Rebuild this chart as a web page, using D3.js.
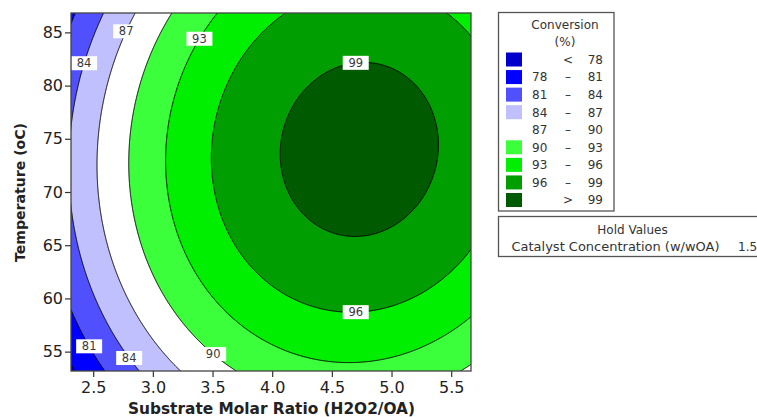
<!DOCTYPE html>
<html>
<head>
<meta charset="utf-8">
<script src="https://cdn.jsdelivr.net/npm/d3@7"></script>
<style>
  html, body { margin: 0; padding: 0; background: #fff; }
  svg { display: block; }
  text { font-family: "DejaVu Sans", sans-serif; }
</style>
</head>
<body>
<script>
// Axis ranges and ticks
const ratioRange = [2.314, 5.666];
const tempRange = [53.18, 86.82];
const ratioTicks = [2.5, 3.0, 3.5, 4.0, 4.5, 5.0, 5.5];
const tempTicks = [55, 60, 65, 70, 75, 80, 85];

// Contour levels and the fill of each band (< first level ... > last level)
const levels = [78, 81, 84, 87, 90, 93, 96, 99];
const bandColors = ["#0000CC", "#0000FF", "#5050FF", "#C0C0FF", "#FFFFFF",
                    "#3CFF3C", "#00EE00", "#009E00", "#005A00"];

// Fitted quadratic response surface, catalyst held at 1.5 w/wOA:
// Conversion = b0 + b1*R + b2*T + b11*R^2 + b22*T^2 + b12*R*T
const surfaceTerms = ["const", "R", "T", "R*R", "T*T", "R*T"];
const surfaceCoefs = [-51.269, 24.1444, 2.55048, -2.74, -0.018, 0.024];

// Where each contour carries its value label (fixed temperature -> left branch,
// fixed ratio -> upper/lower branch)
const labelSpots = [
  { level: 87, temp: 85.1 },
  { level: 84, temp: 82.1 },
  { level: 93, temp: 84.4 },
  { level: 99, ratio: 4.7, branch: "upper" },
  { level: 96, ratio: 4.7, branch: "lower" },
  { level: 90, temp: 54.77 },
  { level: 84, temp: 54.4 },
  { level: 81, temp: 55.5 }
];

const holdName = "Catalyst Concentration (w/wOA)";
const holdValue = "1.5";

const W = 757, H = 417;
const plot = { left: 71, top: 13, right: 471, bottom: 371 };

const svg = d3.select("body").append("svg")
  .attr("width", W).attr("height", H)
  .attr("viewBox", `0 0 ${W} ${H}`);

svg.append("rect").attr("width", W).attr("height", H).attr("fill", "#fff");

const x = d3.scaleLinear().domain(ratioRange).range([plot.left, plot.right]);
const y = d3.scaleLinear().domain(tempRange).range([plot.bottom, plot.top]);

const [b0, b1, b2, b11, b22, b12] = surfaceCoefs;
function conversion(r, t) {
  return b0 + b1 * r + b2 * t + b11 * r * r + b22 * t * t + b12 * r * t;
}

// Sample the surface on a pixel grid slightly larger than the plot, so the
// grid border of every contour polygon falls outside the clip.
const pad = 2;
const nx = (plot.right - plot.left) + 2 * pad;
const ny = (plot.bottom - plot.top) + 2 * pad;
const r0 = x.invert(plot.left - pad), r1 = x.invert(plot.right + pad);
const t0 = y.invert(plot.top - pad), t1 = y.invert(plot.bottom + pad);
const dr = (r1 - r0) / nx, dt = (t1 - t0) / ny;

const grid = new Float64Array(nx * ny);
for (let j = 0; j < ny; j++) {
  const t = t0 + (j + 0.5) * dt;
  for (let i = 0; i < nx; i++) {
    grid[j * nx + i] = conversion(r0 + (i + 0.5) * dr, t);
  }
}

const contours = d3.contours().size([nx, ny]).thresholds(levels)(grid);

const toScreen = d3.geoTransform({
  point(gx, gy) { this.stream.point(x(r0 + gx * dr), y(t0 + gy * dt)); }
});
const path = d3.geoPath(toScreen);

svg.append("clipPath").attr("id", "plot-clip")
  .append("rect")
  .attr("x", plot.left).attr("y", plot.top)
  .attr("width", plot.right - plot.left).attr("height", plot.bottom - plot.top);

const surface = svg.append("g").attr("clip-path", "url(#plot-clip)");

surface.append("rect")
  .attr("x", plot.left).attr("y", plot.top)
  .attr("width", plot.right - plot.left).attr("height", plot.bottom - plot.top)
  .attr("fill", bandColors[0]);

surface.selectAll("path.band")
  .data(contours)
  .join("path")
  .attr("class", "band")
  .attr("d", path)
  .attr("fill", (d, i) => bandColors[i + 1])
  .attr("stroke", "none");

surface.selectAll("path.iso")
  .data(contours)
  .join("path")
  .attr("class", "iso")
  .attr("d", path)
  .attr("fill", "none")
  .attr("stroke", "#000")
  .attr("stroke-width", 1);

// Contour value labels, placed on their contour by solving the surface
function solveQuadratic(a, b, c) {
  const disc = Math.sqrt(b * b - 4 * a * c);
  return [(-b - disc) / (2 * a), (-b + disc) / (2 * a)];
}
function labelPoint(s) {
  if (s.temp !== undefined) {
    const t = s.temp;
    const roots = solveQuadratic(b11, b1 + b12 * t, b0 + b2 * t + b22 * t * t - s.level);
    return [Math.min(...roots), t];
  }
  const r = s.ratio;
  const roots = solveQuadratic(b22, b2 + b12 * r, b0 + b1 * r + b11 * r * r - s.level);
  return [r, s.branch === "upper" ? Math.max(...roots) : Math.min(...roots)];
}

const labels = svg.append("g").selectAll("g")
  .data(labelSpots)
  .join("g")
  .attr("transform", d => {
    const [r, t] = labelPoint(d);
    return `translate(${x(r)},${y(t)})`;
  });
labels.append("rect")
  .attr("x", -13).attr("y", -7).attr("width", 26).attr("height", 14)
  .attr("fill", "#fff");
labels.append("text")
  .attr("text-anchor", "middle")
  .attr("dy", "0.36em")
  .attr("font-size", 11.5)
  .attr("fill", "#3a3a3a")
  .text(d => d.level);

// Axes
const xAxis = svg.append("g")
  .attr("transform", `translate(0,${plot.bottom})`)
  .call(d3.axisBottom(x).tickValues(ratioTicks).tickFormat(d3.format(".1f"))
    .tickSize(6).tickSizeOuter(0).tickPadding(5));
const yAxis = svg.append("g")
  .attr("transform", `translate(${plot.left},0)`)
  .call(d3.axisLeft(y).tickValues(tempTicks).tickFormat(d3.format("d"))
    .tickSize(6).tickSizeOuter(0).tickPadding(2));
[xAxis, yAxis].forEach(g => {
  g.select(".domain").remove();
  g.selectAll(".tick line").attr("stroke", "#333").attr("stroke-width", 1.2);
  g.selectAll(".tick text")
    .attr("font-family", "DejaVu Sans, sans-serif")
    .attr("font-size", 16)
    .attr("fill", "#222");
});

// Plot frame
svg.append("rect")
  .attr("x", plot.left).attr("y", plot.top)
  .attr("width", plot.right - plot.left).attr("height", plot.bottom - plot.top)
  .attr("fill", "none").attr("stroke", "#444").attr("stroke-width", 1.3);

// Axis titles
svg.append("text")
  .attr("x", (plot.left + plot.right) / 2 + 0.5).attr("y", 414)
  .attr("text-anchor", "middle")
  .attr("font-size", 15).attr("font-weight", "bold").attr("fill", "#222")
  .attr("textLength", 287).attr("lengthAdjust", "spacingAndGlyphs")
  .text("Substrate Molar Ratio (H2O2/OA)");
svg.append("text")
  .attr("transform", "translate(24.5,192.5) rotate(-90)")
  .attr("text-anchor", "middle")
  .attr("font-size", 14).attr("font-weight", "bold").attr("fill", "#222")
  .attr("textLength", 139).attr("lengthAdjust", "spacingAndGlyphs")
  .text("Temperature (oC)");

// Legend
const legend = svg.append("g");
legend.append("rect")
  .attr("x", 498.5).attr("y", 12.5).attr("width", 115.5).attr("height", 198.5)
  .attr("fill", "#fff").attr("stroke", "#555").attr("stroke-width", 1.3);
legend.append("text").attr("x", 565).attr("y", 28.5).attr("text-anchor", "middle")
  .attr("font-size", 12).attr("fill", "#333").text("Conversion");
legend.append("text").attr("x", 565).attr("y", 46).attr("text-anchor", "middle")
  .attr("font-size", 12).attr("fill", "#333").text("(%)");

const legendRows = bandColors.map((c, i) => ({
  color: c,
  low: i === 0 ? null : levels[i - 1],
  high: i === levels.length ? null : levels[i]
}));
const rowY = d3.scaleLinear().domain([0, legendRows.length - 1]).range([59.5, 200]);
const rows = legend.selectAll("g.row").data(legendRows).join("g")
  .attr("class", "row")
  .attr("transform", (d, i) => `translate(0,${rowY(i)})`);
rows.append("rect")
  .attr("x", 506).attr("y", -7).attr("width", 16).attr("height", 14)
  .attr("fill", d => d.color);
rows.append("text").attr("x", 532).attr("dy", "0.36em")
  .attr("font-size", 12).attr("fill", "#333")
  .text(d => (d.low !== null && d.high !== null) ? d.low : "");
rows.append("text").attr("x", 568).attr("dy", "0.36em").attr("text-anchor", "middle")
  .attr("font-size", 12).attr("fill", "#333")
  .text(d => d.low === null ? "<" : d.high === null ? ">" : "–");
rows.append("text").attr("x", 603).attr("dy", "0.36em").attr("text-anchor", "end")
  .attr("font-size", 12).attr("fill", "#333")
  .text(d => d.high === null ? d.low : d.high);

// Hold values box
const hold = svg.append("g");
hold.append("rect")
  .attr("x", 498.5).attr("y", 216.5).attr("width", 280).attr("height", 40)
  .attr("fill", "#fff").attr("stroke", "#555").attr("stroke-width", 1.3);
hold.append("text").attr("x", 632.5).attr("y", 234).attr("text-anchor", "middle")
  .attr("font-size", 12).attr("fill", "#333").text("Hold Values");
hold.append("text").attr("x", 511.5).attr("y", 251)
  .attr("font-size", 12).attr("fill", "#333")
  .attr("textLength", 208).attr("lengthAdjust", "spacingAndGlyphs")
  .text(holdName);
hold.append("text").attr("x", 738).attr("y", 251)
  .attr("font-size", 12).attr("fill", "#333").text(holdValue);
</script>
</body>
</html>
